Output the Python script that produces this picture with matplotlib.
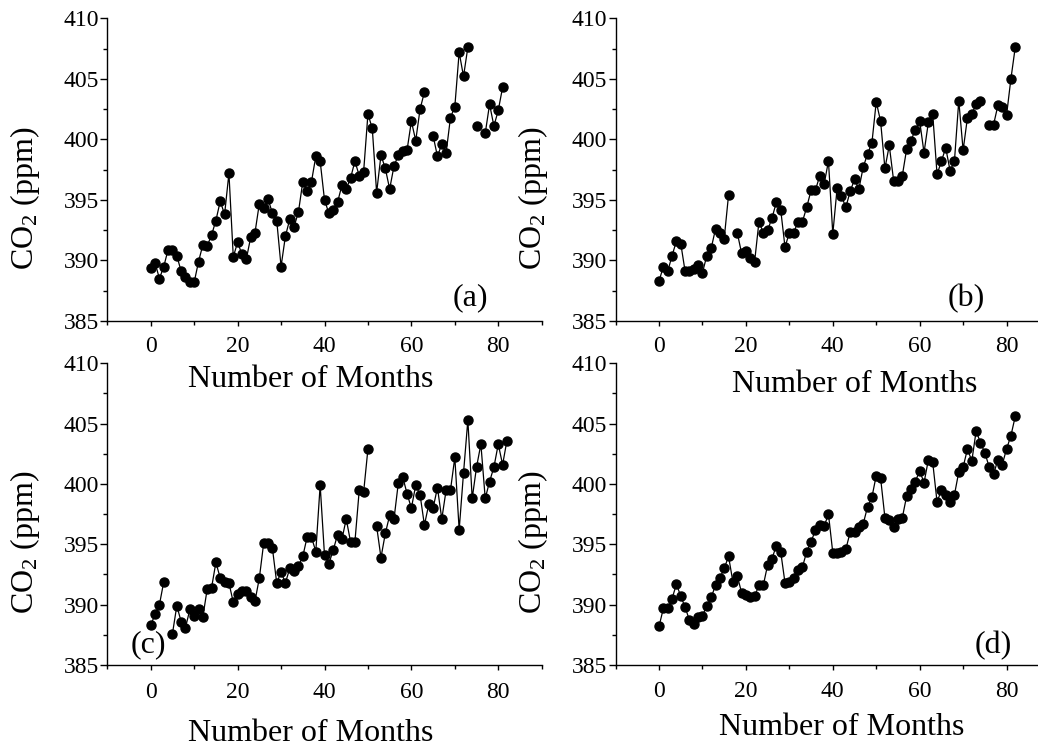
import numpy as np
import matplotlib
matplotlib.use('Agg')
import matplotlib.pyplot as plt
from matplotlib.ticker import MultipleLocator

plt.rcParams['font.family'] = ['Liberation Serif', 'DejaVu Serif']
plt.rcParams['mathtext.fontset'] = 'custom'
plt.rcParams['mathtext.rm'] = 'Liberation Serif'
plt.rcParams['mathtext.it'] = 'Liberation Serif:italic'

nan = np.nan

# monthly CO2 (ppm), gaps = missing months
co2_a = [389.4, 389.8, 388.5, 389.5, 390.9, 390.9, 390.4, 389.1, 388.6, 388.2,
         388.2, 389.9, 391.3, 391.2, 392.1, 393.3, 394.9, 393.8, 397.2, 390.3,
         391.5, 390.5, 390.1, 391.9, 392.3, 394.7, 394.3, 395.1, 393.9, 393.3,
         389.5, 392.0, 393.4, 392.8, 394.0, 396.5, 395.7, 396.5, 398.6, 398.2,
         395.0, 393.9, 394.2, 394.8, 396.2, 395.9, 396.8, 398.2, 397.0, 397.3,
         402.1, 400.9, 395.6, 398.7, 397.6, 395.9, 397.8, 398.7, 399.0, 399.1,
         401.5, 399.9, 402.5, 403.9, nan, 400.3, 398.6, 399.6, 398.9, 401.8,
         402.7, 407.2, 405.2, 407.6, nan, 401.1, nan, 400.5, 402.9, 401.1,
         402.4, 404.3]

co2_b = [388.3, 389.5, 389.1, 390.4, 391.6, 391.4, 389.1, 389.1, 389.3, 389.6,
         389.0, 390.4, 391.0, 392.6, 392.3, 391.8, 395.4, nan, 392.3, 390.6,
         390.8, 390.2, 389.9, 393.2, 392.3, 392.5, 393.5, 394.8, 394.2, 391.1,
         392.3, 392.3, 393.2, 393.2, 394.4, 395.8, 395.8, 397.0, 396.3, 398.2,
         392.2, 396.0, 395.3, 394.4, 395.7, 396.7, 395.9, 397.7, 398.8, 399.7,
         403.1, 401.5, 397.6, 399.5, 396.6, 396.6, 397.0, 399.2, 399.9, 400.8,
         401.5, 398.9, 401.4, 402.1, 397.1, 398.2, 399.3, 397.4, 398.2, 403.2,
         399.1, 401.8, 402.1, 402.9, 403.2, nan, 401.2, 401.2, 402.8, 402.7,
         402.0, 405.0, 407.6]

co2_c = [388.3, 389.2, 390.0, 391.9, nan, 387.6, 389.9, 388.6, 388.1, 389.6,
         389.1, 389.6, 389.0, 391.3, 391.4, 393.5, 392.2, 391.9, 391.8, 390.2,
         390.9, 391.1, 391.1, 390.6, 390.3, 392.2, 395.1, 395.1, 394.7, 391.8,
         392.7, 391.8, 393.0, 392.8, 393.2, 394.0, 395.6, 395.6, 394.4, 399.9,
         394.1, 393.4, 394.5, 395.8, 395.4, 397.1, 395.2, 395.2, 399.5, 399.3,
         402.9, nan, 396.5, 393.9, 395.9, 397.4, 397.1, 400.1, 400.6, 399.2,
         398.0, 399.9, 399.1, 396.6, 398.3, 398.0, 399.7, 397.1, 399.5, 399.5,
         402.2, 396.2, 400.9, 405.3, 398.8, 401.4, 403.3, 398.8, 400.2, 401.4,
         403.3, 401.6, 403.6]

co2_d = [388.2, 389.7, 389.7, 390.5, 391.7, 390.7, 389.8, 388.7, 388.4, 389.0,
         389.1, 389.9, 390.6, 391.6, 392.2, 393.0, 394.0, 391.9, 392.4, 391.0,
         390.8, 390.6, 390.7, 391.6, 391.6, 393.3, 393.8, 394.9, 394.4, 391.8,
         391.9, 392.2, 392.9, 393.1, 394.4, 395.2, 396.2, 396.6, 396.5, 397.5,
         394.3, 394.3, 394.4, 394.6, 396.0, 396.0, 396.4, 396.7, 398.1, 398.9,
         400.7, 400.5, 397.2, 397.0, 396.4, 397.1, 397.2, 399.0, 399.6, 400.2,
         401.1, 400.1, 402.0, 401.8, 398.5, 399.5, 399.1, 398.5, 399.1, 401.0,
         401.4, 402.9, 401.9, 404.4, 403.4, 402.6, 401.4, 400.8, 402.0, 401.6,
         402.9, 404.0, 405.6]

panel_labels = ['(a)', '(b)', '(c)', '(d)']

W, H = 1038, 747
fig = plt.figure(figsize=(W / 100, H / 100), dpi=100)

# axes boxes in pixels: left, top, right, bottom
boxes = [(107.3, 18.3, 541.7, 321.0),
         (615.6, 18.3, 1050.0, 321.0),
         (107.3, 363.3, 541.7, 665.0),
         (615.6, 363.3, 1050.0, 665.0)]
tag_pos = [(0.835, 0.076), (0.807, 0.073), (0.094, 0.066), (0.87, 0.066)]
xlab_pos = [(0.469, -0.145), (0.551, -0.162), (0.469, -0.178), (0.52, -0.16)]
xpad = [7, 7, 9, 8]

for i, data in enumerate([co2_a, co2_b, co2_c, co2_d]):
    l, t, r, b = boxes[i]
    ax = fig.add_axes([l / W, (H - b) / H, (r - l) / W, (b - t) / H])
    ax.patch.set_facecolor('none')
    months = np.arange(len(data))
    ax.plot(months, data, color='black', lw=0.9, marker='o', ms=6.5,
            markeredgecolor='black', markerfacecolor='black')
    ax.set_xlim(-10, 90)
    ax.set_ylim(385, 410)
    ax.set_xticks([0, 20, 40, 60, 80])
    ax.xaxis.set_minor_locator(MultipleLocator(10))
    ax.set_yticks([385, 390, 395, 400, 405, 410])
    ax.yaxis.set_minor_locator(MultipleLocator(2.5))
    for side in ['top', 'right']:
        ax.spines[side].set_visible(False)
    for side in ['left', 'bottom']:
        ax.spines[side].set_linewidth(1.0)
    ax.tick_params(axis='x', which='major', direction='out', length=3.5,
                   width=1, labelsize=17, pad=xpad[i])
    ax.tick_params(axis='x', which='minor', direction='out', length=3, width=1)
    ax.tick_params(axis='y', which='major', direction='out', length=5,
                   width=1, labelsize=17, pad=1)
    ax.tick_params(axis='y', which='minor', direction='out', length=3, width=1)
    ax.set_xlabel('Number of Months', fontsize=23)
    ax.xaxis.set_label_coords(*xlab_pos[i])
    ax.set_ylabel('CO$_2$ (ppm)', fontsize=23)
    ax.yaxis.set_label_coords(-0.150, 0.406)
    ax.text(tag_pos[i][0], tag_pos[i][1], panel_labels[i], transform=ax.transAxes,
            fontsize=23, ha='center', va='center')

fig.savefig('out.png', dpi=100)
